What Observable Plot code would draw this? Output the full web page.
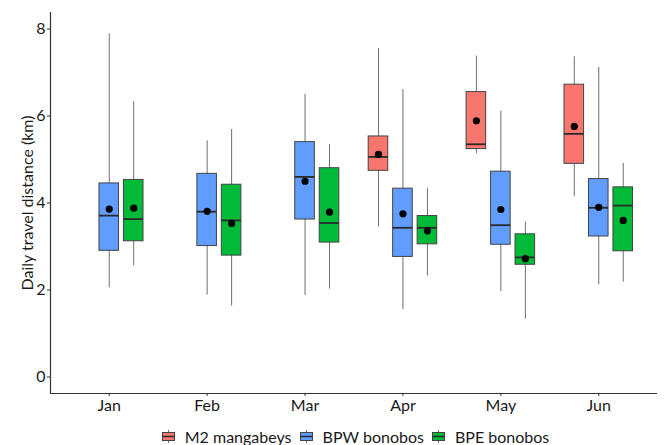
<!DOCTYPE html>
<html>
<head>
<meta charset="utf-8">
<script src="https://cdn.jsdelivr.net/npm/d3@7"></script>
<script src="https://cdn.jsdelivr.net/npm/@observablehq/plot@0.6"></script>
<style>
  html, body { margin: 0; padding: 0; background: #fff; overflow: hidden; }
  #chart { width: 667px; height: 445px; font-family: Lato, "Open Sans", sans-serif; }
  #legend { display: flex; justify-content: center; align-items: center; height: 32px; padding-left: 44px; box-sizing: border-box; width: 667px; }
  .item { display: flex; align-items: center; margin-right: 8px; font-size: 16px; color: #1a1a1a; }
  .item:last-child { margin-right: 0; }
  .item svg { margin-right: 10px; }
</style>
</head>
<body>
<div id="chart"></div>
<script>
const months = ["Jan", "Feb", "Mar", "Apr", "May", "Jun"];
const groups = ["M2 mangabeys", "BPW bonobos", "BPE bonobos"];
const colors = ["#F8766D", "#619CFF", "#00BA38"];
const yTicks = [0, 2, 4, 6, 8];

// rows: groups (M2, BPW, BPE); columns: months Jan..Jun (null = no data)
const whiskerLow = [
  [null, null, null, 3.45, 5.13, 4.14],
  [2.05, 1.88, 1.87, 1.55, 1.96, 2.12],
  [2.55, 1.63, 2.02, 2.32, 1.33, 2.18]
];
const q1 = [
  [null, null, null, 4.74, 5.24, 4.90],
  [2.90, 3.01, 3.62, 2.76, 3.04, 3.23],
  [3.12, 2.79, 3.09, 3.05, 2.58, 2.89]
];
const median = [
  [null, null, null, 5.06, 5.35, 5.59],
  [3.71, 3.80, 4.60, 3.43, 3.49, 3.89],
  [3.63, 3.60, 3.54, 3.43, 2.75, 3.94]
];
const q3 = [
  [null, null, null, 5.53, 6.55, 6.72],
  [4.45, 4.67, 5.40, 4.33, 4.72, 4.55],
  [4.53, 4.42, 4.80, 3.70, 3.28, 4.36]
];
const whiskerHigh = [
  [null, null, null, 7.55, 7.38, 7.36],
  [7.89, 5.43, 6.50, 6.61, 6.11, 7.12],
  [6.33, 5.69, 5.34, 4.33, 3.56, 4.91]
];
const means = [
  [null, null, null, 5.12, 5.89, 5.76],
  [3.86, 3.81, 4.50, 3.75, 3.85, 3.90],
  [3.88, 3.53, 3.79, 3.36, 2.72, 3.60]
];

const dodge = 0.25, halfBox = 0.1;
const rows = [];
groups.forEach((g, gi) => {
  months.forEach((m, mi) => {
    if (median[gi][mi] == null) return;
    rows.push({
      group: g, month: m,
      x: mi + 1 + (gi - 1) * dodge,
      low: whiskerLow[gi][mi], q1: q1[gi][mi], med: median[gi][mi],
      q3: q3[gi][mi], high: whiskerHigh[gi][mi], mean: means[gi][mi]
    });
  });
});

const plot = Plot.plot({
  width: 667,
  height: 420,
  marginLeft: 50,
  marginRight: 10,
  marginTop: 12,
  marginBottom: 27,
  style: { fontFamily: "Lato, 'Open Sans', sans-serif", fontSize: "16px", background: "#fff" },
  x: { domain: [0.4, 6.6], axis: null },
  y: { domain: [-0.38, 8.38], axis: null },
  color: { domain: groups, range: colors },
  marks: [
    Plot.ruleX(rows, { x: "x", y1: "low", y2: "high", stroke: "#707070", strokeWidth: 1 }),
    Plot.rect(rows, { x1: d => d.x - halfBox, x2: d => d.x + halfBox, y1: "q1", y2: "q3", fill: "group", stroke: "#444", strokeWidth: 1 }),
    Plot.ruleY(rows, { y: "med", x1: d => d.x - halfBox, x2: d => d.x + halfBox, stroke: "#2a2a2a", strokeWidth: 1.8 }),
    Plot.dot(rows, { x: "x", y: "mean", r: 3.6, fill: "#000", stroke: "none" }),
    Plot.ruleX([0.4], { stroke: "#333", strokeWidth: 1.2 }),
    Plot.ruleY([-0.38], { stroke: "#333", strokeWidth: 1.2 }),
    Plot.axisY({ ticks: yTicks, tickSize: 3, tickPadding: 2, fontSize: 16, label: null, stroke: "#333", fill: "#1a1a1a" }),
    Plot.axisX({ ticks: [1, 2, 3, 4, 5, 6], tickFormat: d => months[d - 1], tickSize: 3, tickPadding: 3, fontSize: 16, label: null, stroke: "#333", fill: "#1a1a1a" }),
    Plot.text(["Daily travel distance (km)"], { frameAnchor: "left", rotate: -90, dx: -23, fontSize: 16, fill: "#1a1a1a", textAnchor: "middle" })
  ]
});

const chart = document.getElementById("chart");
chart.appendChild(plot);

const legend = document.createElement("div");
legend.id = "legend";
groups.forEach((g, i) => {
  const item = document.createElement("div");
  item.className = "item";
  item.innerHTML = `<svg width="13" height="13" viewBox="0 0 13 13">
    <line x1="6.5" y1="0" x2="6.5" y2="13" stroke="#707070" stroke-width="1"/>
    <rect x="0.5" y="2.5" width="12" height="8" fill="${colors[i]}" stroke="#444" stroke-width="1"/>
    <line x1="0.5" y1="6.5" x2="12.5" y2="6.5" stroke="#2a2a2a" stroke-width="1.5"/>
  </svg><span>${g}</span>`;
  legend.appendChild(item);
});
chart.appendChild(legend);
</script>
</body>
</html>
